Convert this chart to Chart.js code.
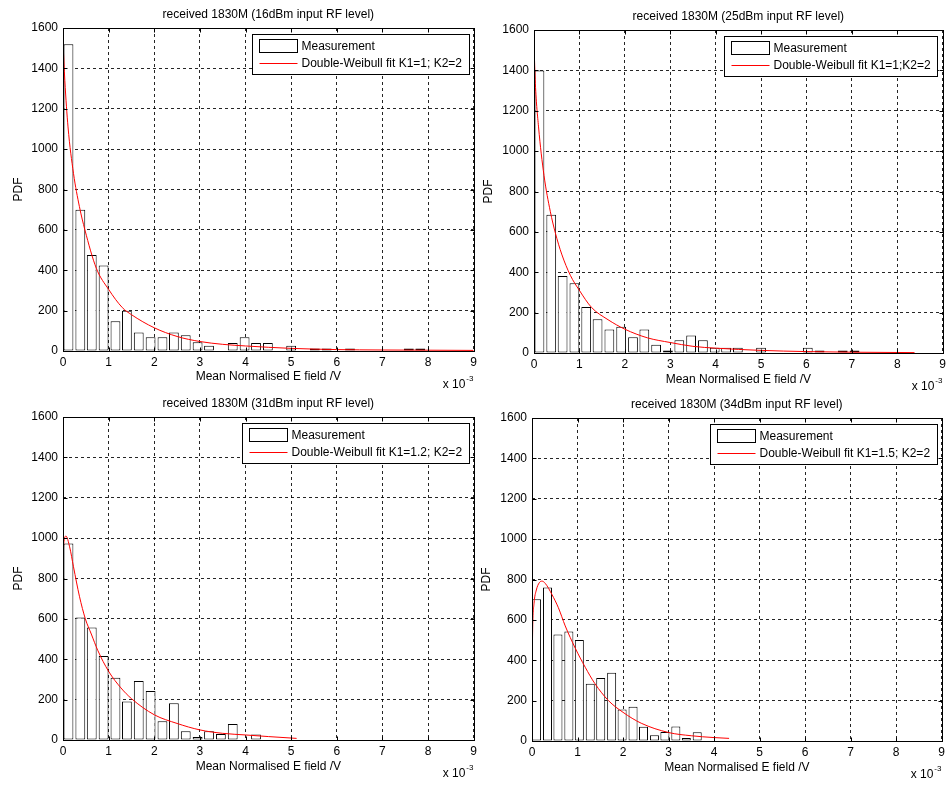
<!DOCTYPE html>
<html>
<head>
<meta charset="utf-8">
<title>received 1830M - PDF of mean normalised E field</title>
<script src="https://cdn.jsdelivr.net/npm/chart.js@4.4.1/dist/chart.umd.min.js"></script>
<style>
html, body { margin: 0; padding: 0; background: #fff; overflow: hidden; }
body { width: 950px; height: 786px; position: relative; }
canvas { position: absolute; }
</style>
</head>
<body>
<canvas id="c16" width="481" height="393" style="left:0px;top:0px"></canvas>
<canvas id="c25" width="480" height="393" style="left:470px;top:0px"></canvas>
<canvas id="c31" width="481" height="393" style="left:0px;top:393px"></canvas>
<canvas id="c34" width="479" height="393" style="left:470px;top:393px"></canvas>
<script>
'use strict';

// bin centres (x 10^-3 V)
var binsA = [0.12, 0.38, 0.63, 0.89, 1.15, 1.40, 1.66, 1.92, 2.18, 2.43, 2.69, 2.95, 3.20, 3.46, 3.72,
             3.98, 4.23, 4.49, 4.75, 5.00, 5.26, 5.52, 5.78, 6.03, 6.29, 6.55, 6.80, 7.06, 7.32, 7.58, 7.83];
var binsB = [0.10, 0.34, 0.57, 0.81, 1.04, 1.28, 1.51, 1.75, 1.98, 2.22, 2.45, 2.69, 2.92, 3.16, 3.39, 3.63];

// measured histograms (PDF)
var pdf16 = [1520, 700, 476, 424, 147, 200, 92, 68, 68, 92, 78, 43, 26, 0, 40, 68, 40, 40, 0, 26,
             0, 12, 12, 0, 12, 0, 0, 0, 0, 12, 12];
var pdf25 = [1400, 685, 382, 345, 228, 167, 116, 130, 78, 116, 41, 12, 63, 87, 63, 26, 26, 26, 0, 26,
             0, 0, 0, 26, 12, 0, 12, 12];
var pdf31 = [973, 607, 557, 416, 308, 191, 292, 243, 93, 182, 43, 15, 43, 30, 79, 0, 27];
var pdf34 = [702, 760, 527, 542, 500, 283, 312, 338, 156, 170, 70, 28, 44, 72, 15, 43];

// double-Weibull fits
var fit16X = [0, 0.04, 0.11, 0.23, 0.36, 0.48, 0.73, 1.0, 1.3, 1.5, 2.0, 2.5, 3.0, 3.5, 4.0, 5.0, 6.0, 7.0, 8.0, 9.0];
var fit16Y = [1530, 1340, 1110, 880, 715, 600, 410, 305, 215, 180, 115, 72, 47, 33, 25, 13, 7, 5, 4, 3];
var fit25X = [0, 0.03, 0.10, 0.22, 0.36, 0.47, 0.61, 0.8, 1.0, 1.27, 1.63, 2.0, 2.5, 3.0, 3.5, 4.0, 5.0, 6.0, 7.0, 8.38];
var fit25Y = [1530, 1335, 1120, 880, 700, 595, 490, 385, 310, 225, 165, 118, 75, 52, 33, 24, 13, 7, 4, 2];
var fit31X = [0, 0.015, 0.065, 0.145, 0.23, 0.36, 0.49, 0.62, 0.76, 1.0, 1.27, 1.5, 2.0, 2.5, 3.0, 3.5, 4.0, 4.5, 5.12];
var fit31Y = [825, 970, 1010, 957, 858, 712, 600, 525, 445, 340, 258, 205, 125, 82, 50, 33, 25, 17, 8];
var fit34X = [0, 0.015, 0.044, 0.095, 0.16, 0.22, 0.29, 0.44, 0.58, 0.73, 0.95, 1.17, 1.38, 1.68, 2.0, 2.4, 3.0, 3.5, 4.0, 4.33];
var fit34Y = [290, 560, 680, 748, 784, 792, 781, 725, 660, 570, 460, 365, 285, 200, 142, 88, 42, 26, 17, 13];

var xTickValues = [0, 1, 2, 3, 4, 5, 6, 7, 8, 9];
var yTickValues = [0, 200, 400, 600, 800, 1000, 1200, 1400, 1600];

var panelTitles = [
    'received 1830M (16dBm input RF level)',
    'received 1830M (25dBm input RF level)',
    'received 1830M (31dBm input RF level)',
    'received 1830M (34dBm input RF level)'
];
var fitLabels = [
    'Double-Weibull fit K1=1; K2=2',
    'Double-Weibull fit K1=1;K2=2',
    'Double-Weibull fit K1=1.2; K2=2',
    'Double-Weibull fit K1=1.5; K2=2'
];
var measLabel = 'Measurement';
var xLabel = 'Mean Normalised E field /V';
var yLabel = 'PDF';

var fontFamily = '"Liberation Sans", Arial, Helvetica, sans-serif';
Chart.defaults.font.family = fontFamily;
Chart.defaults.font.size = 12;
Chart.defaults.color = '#000';

// plot box, inward ticks, x10^-3 multiplier and boxed legend (MATLAB look)
var matlabFrame = {
    id : 'matlabFrame',
    afterDraw : function (chart, args, opts) {
        var ctx = chart.ctx,
            a   = chart.chartArea,
            xs  = chart.scales.x,
            ys  = chart.scales.y;
        var L = Math.round(a.left) + 0.5, R = Math.round(a.right) + 0.5,
            T = Math.round(a.top) + 0.5,  B = Math.round(a.bottom) + 0.5;

        ctx.save();
        ctx.setLineDash([]);
        ctx.strokeStyle = '#000';
        ctx.lineWidth   = 1;
        ctx.strokeRect(L, T, R - L, B - T);

        ctx.beginPath();
        xs.ticks.forEach(function (t) {
            var px = Math.round(xs.getPixelForValue(t.value)) + 0.5;
            ctx.moveTo(px, B); ctx.lineTo(px, B - 4);
            ctx.moveTo(px, T); ctx.lineTo(px, T + 4);
        });
        ys.ticks.forEach(function (t) {
            var py = Math.round(ys.getPixelForValue(t.value)) + 0.5;
            ctx.moveTo(L, py); ctx.lineTo(L + 4, py);
            ctx.moveTo(R, py); ctx.lineTo(R - 4, py);
        });
        ctx.stroke();

        // axis multiplier
        ctx.fillStyle    = '#000';
        ctx.textAlign    = 'left';
        ctx.textBaseline = 'alphabetic';
        ctx.font = '12px ' + fontFamily;
        var ex = a.right - 31, ey = a.bottom + 37;
        ctx.fillText('x 10', ex, ey);
        var ew = ctx.measureText('x 10').width;
        ctx.font = '8px ' + fontFamily;
        ctx.fillText('-3', ex + ew + 1, ey - 7);

        // legend
        ctx.font = '12px ' + fontFamily;
        var tw = Math.max(ctx.measureText(measLabel).width, ctx.measureText(opts.fitLabel).width);
        var bw = 7 + 38 + 4 + tw + 7,
            bh = 40,
            bx = Math.round(a.right - 5 - bw) + 0.5,
            by = Math.round(a.top + 6) + 0.5;
        ctx.fillStyle = '#fff';
        ctx.fillRect(bx, by, bw, bh);
        ctx.strokeStyle = '#000';
        ctx.strokeRect(bx, by, Math.round(bw), bh);

        ctx.fillStyle = '#fff';
        ctx.fillRect(bx + 7, by + 5, 38, 13);
        ctx.strokeRect(bx + 7, by + 5, 38, 13);

        ctx.strokeStyle = '#ff0000';
        ctx.beginPath();
        ctx.moveTo(bx + 7, by + 29);
        ctx.lineTo(bx + 45, by + 29);
        ctx.stroke();

        ctx.fillStyle    = '#000';
        ctx.textBaseline = 'middle';
        ctx.fillText(measLabel, bx + 49, by + 12);
        ctx.fillText(opts.fitLabel, bx + 49, by + 29);
        ctx.restore();
    }
};

// chart area of each panel inside its canvas
var panelBoxes = [
    { left : 63, right : 476, top : 28, bottom : 351, titleTop : 7, xTitlePad : 9,  yTitlePad : 11 },
    { left : 64, right : 475, top : 30, bottom : 353, titleTop : 9, xTitlePad : 6,  yTitlePad : 11 },
    { left : 63, right : 476, top : 24, bottom : 347, titleTop : 3, xTitlePad : 12, yTitlePad : 11 },
    { left : 62, right : 474, top : 25, bottom : 348, titleTop : 4, xTitlePad : 11, yTitlePad : 9.5 }
];

function makePanel(canvasId, idx, bins, counts, fitX, fitY) {
    var canvas = document.getElementById(canvasId),
        g      = panelBoxes[idx],
        W      = canvas.width,
        H      = canvas.height,
        lineH  = 14.4;

    var bars = counts.map(function (c, i) { return { x : bins[i], y : c }; });
    var fit  = fitX.map(function (x, i) { return { x : x, y : fitY[i] }; });

    return new Chart(canvas.getContext('2d'), {
        type : 'bar',
        data : {
            datasets : [{
                type            : 'line',
                label           : fitLabels[idx],
                data            : fit,
                borderColor     : '#ff0000',
                borderWidth     : 1,
                pointRadius     : 0,
                fill            : false,
                cubicInterpolationMode : 'monotone',
                order           : 0
            }, {
                label              : measLabel,
                data               : bars,
                backgroundColor    : '#ffffff',
                borderColor        : '#000000',
                borderWidth        : 1,
                borderSkipped      : false,
                barPercentage      : 0.86,
                categoryPercentage : 1,
                order              : 1
            }]
        },
        options : {
            responsive : false,
            animation  : false,
            events     : [],
            layout     : { padding : { left : 0, top : 0, bottom : 0, right : W - g.right } },
            plugins    : {
                legend  : { display : false },
                tooltip : { enabled : false },
                title   : {
                    display  : true,
                    text     : panelTitles[idx],
                    fullSize : false,
                    color    : '#000',
                    font     : { size : 12, weight : 'normal', lineHeight : 1.2 },
                    padding  : { top : g.titleTop, bottom : g.top - g.titleTop - lineH }
                },
                matlabFrame : { fitLabel : fitLabels[idx] }
            },
            scales : {
                x : {
                    type   : 'linear',
                    min    : 0,
                    max    : 9,
                    offset : false,
                    afterBuildTicks : function (s) {
                        s.ticks = xTickValues.map(function (v) { return { value : v }; });
                    },
                    afterFit : function (s) { s.height = H - g.bottom; },
                    ticks  : { padding : 4, maxRotation : 0, autoSkip : false,
                               callback : function (v) { return String(v); } },
                    grid   : { offset : false, drawTicks : false, color : 'rgba(0,0,0,0.85)', lineWidth : 1 },
                    border : { display : false, dash : [3, 3] },
                    title  : { display : true, text : xLabel, padding : { top : 0, bottom : g.xTitlePad } }
                },
                y : {
                    type : 'linear',
                    min  : 0,
                    max  : 1600,
                    afterBuildTicks : function (s) {
                        s.ticks = yTickValues.map(function (v) { return { value : v }; });
                    },
                    afterFit : function (s) { s.width = g.left; },
                    ticks  : { padding : 5, autoSkip : false,
                               callback : function (v) { return String(v); } },
                    grid   : { drawTicks : false, color : 'rgba(0,0,0,0.85)', lineWidth : 1 },
                    border : { display : false, dash : [3, 3] },
                    title  : { display : true, text : yLabel, padding : { top : g.yTitlePad, bottom : 0 } }
                }
            }
        },
        plugins : [matlabFrame]
    });
}

window.p16 = makePanel('c16', 0, binsA, pdf16, fit16X, fit16Y);
window.p25 = makePanel('c25', 1, binsA, pdf25, fit25X, fit25Y);
window.p31 = makePanel('c31', 2, binsA, pdf31, fit31X, fit31Y);
window.p34 = makePanel('c34', 3, binsB, pdf34, fit34X, fit34Y);
</script>
</body>
</html>
